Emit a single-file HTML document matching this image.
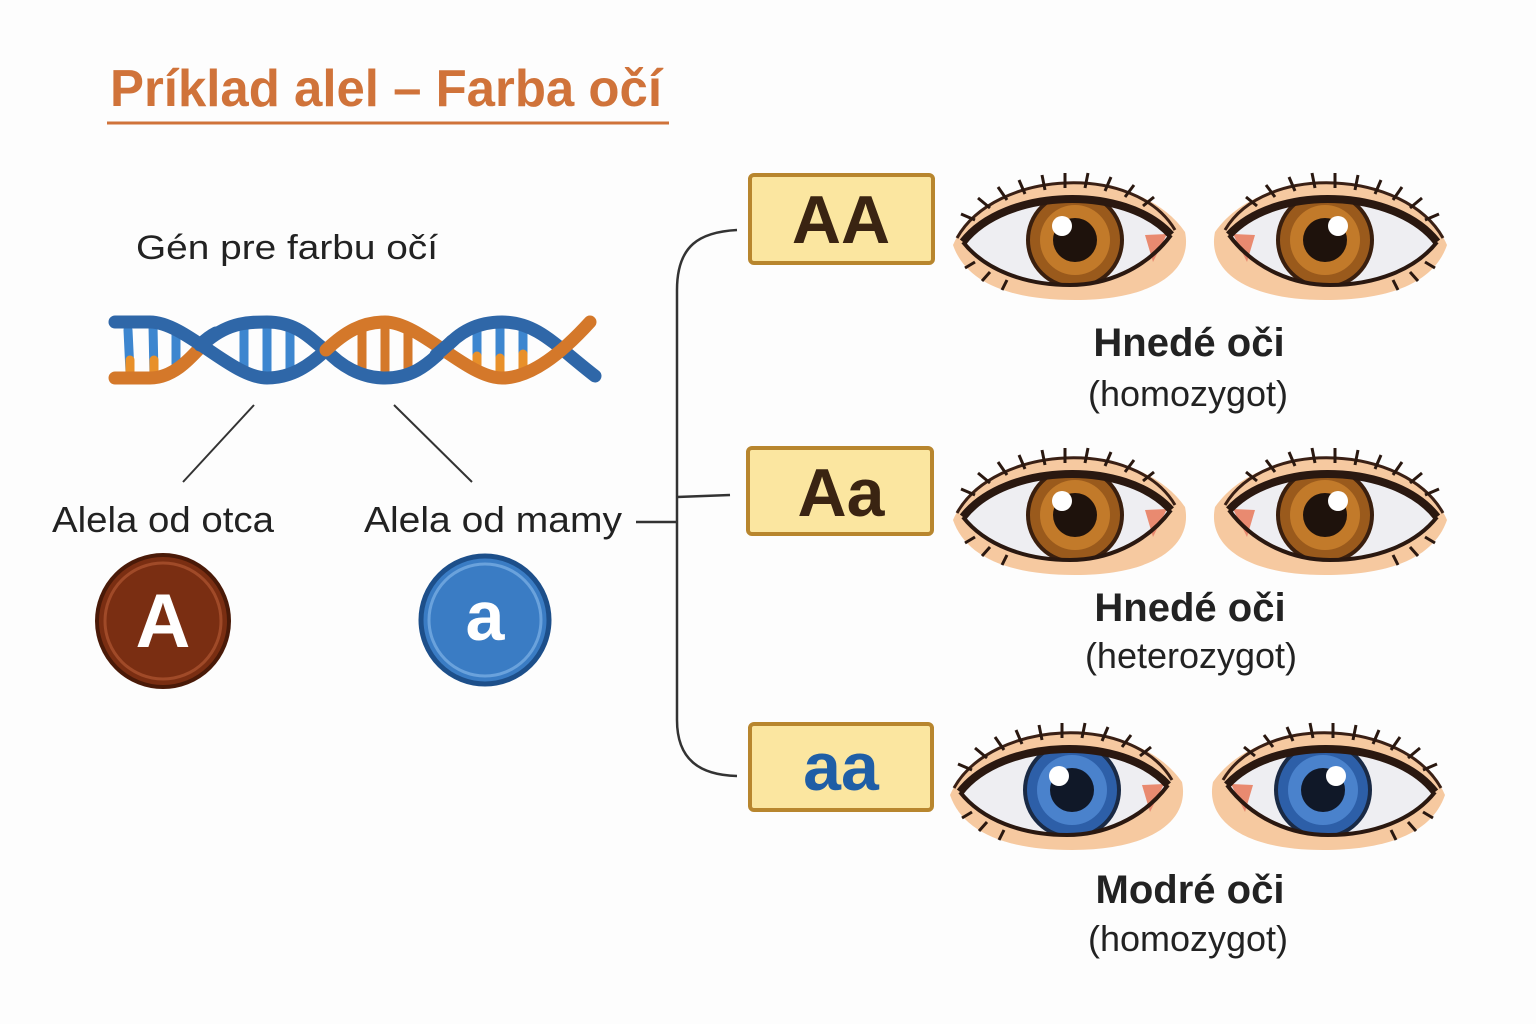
<!DOCTYPE html>
<html><head><meta charset="utf-8"><style>html,body{margin:0;padding:0;background:#fdfdfd}svg{display:block}</style></head>
<body>
<svg width="1536" height="1024" viewBox="0 0 1536 1024" xmlns="http://www.w3.org/2000/svg" font-family="Liberation Sans, sans-serif">
<rect width="1536" height="1024" fill="#fdfdfd"/>
<defs>
<clipPath id="open"><path d="M-112,2 C-70,-52 50,-56 96,-5 C70,30 30,45 -5,45 C-50,45 -90,30 -112,2Z"/></clipPath>
<g id="eyebase">
  <path d="M-122,5 C-90,-70 60,-80 110,-8 C118,30 80,60 0,60 C-70,60 -110,40 -122,5Z" fill="#f6c9a0"/>
  <path d="M-112,2 C-70,-52 50,-56 96,-5 C70,30 30,45 -5,45 C-50,45 -90,30 -112,2Z" fill="#eeeef2"/>
  <path d="M70,-5 L92,-6 L78,22 Z" fill="#e98a70"/>
  <path d="M-118,-2 C-80,-70 60,-78 100,-10" fill="none" stroke="#3a2015" stroke-width="3"/>
  <g stroke="#2a1810" stroke-width="3" fill="none">
    <path d="M-100,-20 l-14,-6"/><path d="M-85,-32 l-12,-10"/><path d="M-68,-40 l-9,-13"/><path d="M-50,-46 l-6,-14"/><path d="M-30,-50 l-3,-15"/><path d="M-10,-52 l0,-15"/><path d="M10,-52 l3,-15"/><path d="M30,-49 l6,-14"/><path d="M50,-43 l9,-12"/><path d="M68,-34 l11,-9"/>
    <path d="M-100,22 l-10,6"/><path d="M-85,32 l-8,9"/><path d="M-68,40 l-5,10"/>
  </g>
</g>
<g id="lid">
  <path d="M-112,2 C-70,-52 50,-56 96,-5" fill="none" stroke="#2a1810" stroke-width="8"/>
  <path d="M96,-5 C70,30 30,45 -5,45 C-50,45 -90,30 -112,2" fill="none" stroke="#2a1810" stroke-width="4"/>
</g>
<g id="browneye">
  <use href="#eyebase"/>
  <g clip-path="url(#open)">
  <circle r="47" fill="#9a5a1c" stroke="#3a1f0e" stroke-width="4"/>
  <circle r="35" fill="#c27a2a"/>
  <circle r="22" fill="#1e120c"/>
  <circle cx="-13" cy="-14" r="10" fill="#fff"/>
  </g>
  <use href="#lid"/>
</g>
<g id="blueeye">
  <use href="#eyebase"/>
  <g clip-path="url(#open)">
  <circle r="47" fill="#2d5fa8" stroke="#1a2a45" stroke-width="4"/>
  <circle r="35" fill="#4a82cc"/>
  <circle r="22" fill="#101828"/>
  <circle cx="-13" cy="-14" r="10" fill="#fff"/>
  </g>
  <use href="#lid"/>
</g>
</defs>

<text x="110" y="106" font-size="52" font-weight="bold" fill="#d0733a" textLength="552" lengthAdjust="spacingAndGlyphs">Príklad alel – Farba očí</text>
<line x1="107" y1="123" x2="669" y2="123" stroke="#d0733a" stroke-width="3"/>

<text x="136" y="259" font-size="34" fill="#222" textLength="302" lengthAdjust="spacingAndGlyphs">Gén pre farbu očí</text>

<!-- DNA -->
<g fill="none" stroke-linecap="round">
  <g stroke-width="9">
    <line x1="128" y1="330" x2="130" y2="372" stroke="#3d86cf"/><line x1="153" y1="326" x2="154" y2="376" stroke="#3d86cf"/><line x1="176" y1="332" x2="176" y2="370" stroke="#3d86cf"/>
    <line x1="244" y1="328" x2="244" y2="372" stroke="#3d86cf"/><line x1="267" y1="324" x2="267" y2="376" stroke="#3d86cf"/><line x1="290" y1="328" x2="290" y2="372" stroke="#3d86cf"/>
    <line x1="362" y1="330" x2="362" y2="372" stroke="#d4782a"/><line x1="385" y1="324" x2="385" y2="376" stroke="#d4782a"/><line x1="408" y1="330" x2="408" y2="372" stroke="#d4782a"/>
    <line x1="477" y1="332" x2="477" y2="370" stroke="#3d86cf"/><line x1="500" y1="326" x2="500" y2="374" stroke="#3d86cf"/><line x1="523" y1="332" x2="523" y2="368" stroke="#3d86cf"/>
    <line x1="130" y1="360" x2="130" y2="372" stroke="#e8902a"/><line x1="154" y1="360" x2="154" y2="376" stroke="#e8902a"/><line x1="477" y1="356" x2="477" y2="370" stroke="#e8902a"/><line x1="500" y1="358" x2="500" y2="374" stroke="#e8902a"/><line x1="523" y1="354" x2="523" y2="368" stroke="#e8902a"/>
  </g>
  <g stroke-width="13">
  <!-- strand2 back parts -->
  <path d="M115,378 C128,378 140,378 150,378 C180,378 200,345 208,340" stroke="#d4782a"/>
  <path d="M208,340 C230,322 250,322 267,322 C302,322 315,345 326,350" stroke="#2f67a8"/>
  <path d="M326,350 C340,365 360,378 385,378 C420,378 435,355 444,350" stroke="#2f67a8"/>
  <path d="M444,350 C460,330 480,322 502,322 C537,322 555,345 595,376" stroke="#2f67a8"/>
  <!-- strand1 -->
  <path d="M115,322 C128,322 140,322 150,322 C185,322 232,378 267,378 C292,378 310,365 326,350" stroke="#2f67a8"/>
  <path d="M326,350 C345,332 362,322 385,322 C420,322 467,378 502,378 C530,378 560,355 590,322" stroke="#d4782a"/>
  <!-- front overlays at crossings -->
  <path d="M200,345 C205,340 210,336 216,333" stroke="#2f67a8"/>
  <path d="M436,355 C442,350 448,345 452,341" stroke="#2f67a8"/>
  </g>
</g>

<line x1="254" y1="405" x2="183" y2="482" stroke="#333" stroke-width="2"/>
<line x1="394" y1="405" x2="472" y2="482" stroke="#333" stroke-width="2"/>

<text x="52" y="532" font-size="36" fill="#222" textLength="222" lengthAdjust="spacingAndGlyphs">Alela od otca</text>
<text x="364" y="532" font-size="36" fill="#222" textLength="258" lengthAdjust="spacingAndGlyphs">Alela od mamy</text>

<circle cx="163" cy="621" r="66" fill="#7a2e12" stroke="#4a1a08" stroke-width="4"/>
<circle cx="163" cy="621" r="58" fill="none" stroke="#a04a28" stroke-width="3"/>
<text x="163" y="647" font-size="76" font-weight="bold" fill="#fff" text-anchor="middle">A</text>
<circle cx="485" cy="620" r="64" fill="#3a7cc4" stroke="#1d4f8a" stroke-width="5"/>
<circle cx="485" cy="620" r="56" fill="none" stroke="#6aa2dc" stroke-width="3"/>
<text x="485" y="640" font-size="70" font-weight="bold" fill="#fff" text-anchor="middle">a</text>

<!-- bracket -->
<g fill="none" stroke="#333" stroke-width="2.5">
  <path d="M737,230 C700,232 677,245 677,290 L677,720 C677,760 700,775 737,776"/>
  <path d="M677,497 L730,495"/>
  <path d="M636,522 L677,522"/>
</g>

<g fill="#fbe6a0" stroke="#b8862e" stroke-width="4">
  <rect x="750" y="175" width="183" height="88" rx="4"/>
  <rect x="748" y="448" width="184" height="86" rx="4"/>
  <rect x="750" y="724" width="182" height="86" rx="4"/>
</g>
<text x="841" y="243" font-size="68" font-weight="bold" fill="#3a2412" text-anchor="middle">AA</text>
<text x="841" y="516" font-size="68" font-weight="bold" fill="#3a2412" text-anchor="middle">Aa</text>
<text x="841" y="790" font-size="68" font-weight="bold" fill="#1f5ea6" text-anchor="middle">aa</text>

<use href="#browneye" transform="translate(1075,240)"/>
<use href="#browneye" transform="translate(1325,240) scale(-1,1)"/>
<use href="#browneye" transform="translate(1075,515)"/>
<use href="#browneye" transform="translate(1325,515) scale(-1,1)"/>
<use href="#blueeye" transform="translate(1072,790)"/>
<use href="#blueeye" transform="translate(1323,790) scale(-1,1)"/>

<g text-anchor="middle" fill="#222">
<text x="1189" y="356" font-size="40" font-weight="bold">Hnedé oči</text>
<text x="1188" y="406" font-size="36">(homozygot)</text>
<text x="1190" y="621" font-size="40" font-weight="bold">Hnedé oči</text>
<text x="1191" y="668" font-size="36">(heterozygot)</text>
<text x="1190" y="903" font-size="40" font-weight="bold">Modré oči</text>
<text x="1188" y="951" font-size="36">(homozygot)</text>
</g>
</svg>
</body></html>
